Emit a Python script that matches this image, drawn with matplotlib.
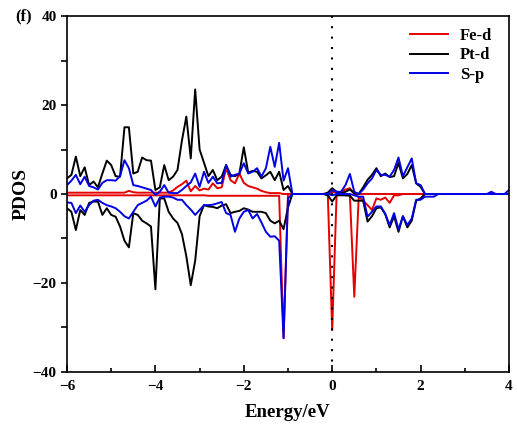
import numpy as np
import matplotlib
matplotlib.use('Agg')
from matplotlib import pyplot as plt
from matplotlib.ticker import MultipleLocator

plt.rcParams['font.family'] = 'Liberation Serif'
plt.rcParams['font.weight'] = 'bold'

# energy grid, -6 .. 4 eV in 0.1 eV steps
energy = np.round(np.arange(-6.0, 4.0001, 0.1), 2)

# values, one per grid point
fe_up = [0.3, 0.3, 0.3, 0.3, 0.3, 0.3, 0.3, 0.3, 0.3, 0.3,
         0.3, 0.3, 0.3, 0.3, 0.7, 0.4, 0.3, 0.3, 0.3, 0.3,
         0.3, 0.3, 0.3, 0.3, 0.8, 1.6, 2.2, 3.0, 0.6, 1.8,
         0.8, 1.2, 1.0, 2.4, 1.3, 1.5, 5.8, 3.1, 2.4, 4.6,
         2.5, 1.8, 1.5, 1.2, 0.7, 0.4, 0.2, 0.2, 0.2, 0.0,
         0.0, 0.0, 0.0, 0.0, 0.0, 0.0, 0.0, 0.0, 0.0, 0.0,
         0.5, 0.3, 0.5, 1.0, 1.3, 0.0, 0.0, 0.0, 0.0, 0.0,
         0.0, 0.0, 0.0, 0.0, 0.0, 0.0, 0.0, 0.0, 0.0, 0.0,
         0.0, 0.0, 0.0, 0.0, 0.0, 0.0, 0.0, 0.0, 0.0, 0.0,
         0.0, 0.0, 0.0, 0.0, 0.0, 0.0, 0.0, 0.0, 0.0, 0.0,
         0.0]
fe_dn = [-0.3, -0.3, -0.3, -0.3, -0.3, -0.3, -0.3, -0.3, -0.3, -0.3,
         -0.3, -0.3, -0.3, -0.3, -0.3, -0.3, -0.3, -0.3, -0.3, -0.3,
         -0.3, -0.3, -0.3, -0.3, -0.3, -0.3, -0.3, -0.3, -0.3, -0.3,
         -0.3, -0.3, -0.4, -0.4, -0.4, -0.4, -0.4, -0.4, -0.4, -0.4,
         -0.4, -0.4, -0.4, -0.4, -0.4, -0.4, -0.4, -0.4, -0.4, -32.4,
         0.0, 0.0, 0.0, 0.0, 0.0, 0.0, 0.0, 0.0, 0.0, 0.0,
         -30.6, 0.0, 0.0, -0.3, -0.2, -23.1, -0.6, -1.5, -2.5, -3.6,
         -1.0, -1.3, -0.8, -2.0, -0.3, -0.3, 0.0, 0.0, 0.0, 0.0,
         0.0, 0.0, 0.0, 0.0, 0.0, 0.0, 0.0, 0.0, 0.0, 0.0,
         0.0, 0.0, 0.0, 0.0, 0.0, 0.0, 0.0, 0.0, 0.0, 0.0,
         0.0]
pt_up = [3.5, 4.3, 8.4, 4.0, 6.0, 2.0, 2.8, 1.5, 4.6, 7.5,
         6.5, 4.0, 3.9, 15.0, 15.0, 4.6, 5.0, 8.2, 7.6, 7.5,
         0.9, 1.5, 6.5, 3.1, 3.9, 5.4, 12.0, 17.4, 8.0, 23.5,
         10.0, 7.0, 4.0, 5.4, 3.1, 3.9, 6.5, 4.3, 4.0, 4.6,
         10.5, 4.8, 5.2, 5.0, 3.5, 4.2, 5.0, 3.1, 5.0, 0.9,
         1.8, 0.0, 0.0, 0.0, 0.0, 0.0, 0.0, 0.0, 0.0, 0.3,
         1.3, 0.5, 0.2, 0.5, 1.0, 0.2, 0.0, 1.5, 3.2, 4.3,
         5.8, 4.0, 4.6, 3.8, 4.0, 7.0, 3.5, 4.5, 6.5, 2.4,
         1.6, 0.0, 0.0, 0.0, 0.0, 0.0, 0.0, 0.0, 0.0, 0.0,
         0.0, 0.0, 0.0, 0.0, 0.0, 0.0, 0.0, 0.0, 0.0, 0.0,
         0.0]
pt_dn = [-3.2, -4.0, -8.1, -3.6, -4.7, -2.0, -1.7, -1.7, -4.7, -3.2,
         -4.7, -5.1, -7.3, -10.5, -12.0, -4.3, -4.7, -6.0, -6.6, -7.3,
         -21.4, -1.0, -1.0, -4.0, -5.5, -6.5, -9.0, -14.0, -20.5, -15.0,
         -5.0, -2.5, -2.8, -2.9, -3.2, -2.6, -2.3, -4.3, -4.0, -3.8,
         -3.2, -3.5, -4.0, -4.0, -4.0, -4.3, -6.0, -6.6, -6.0, -7.9,
         -3.0, 0.0, 0.0, 0.0, 0.0, 0.0, 0.0, 0.0, 0.0, -0.3,
         -1.7, -0.3, -0.3, -0.3, -0.4, -1.5, -1.5, -1.5, -6.2, -5.0,
         -3.2, -3.0, -4.5, -7.5, -5.0, -8.5, -5.0, -7.5, -6.0, -1.5,
         -1.0, 0.0, 0.0, 0.0, 0.0, 0.0, 0.0, 0.0, 0.0, 0.0,
         0.0, 0.0, 0.0, 0.0, 0.0, 0.0, 0.0, 0.0, 0.0, 0.0,
         0.0]
s_up = [2.0, 3.0, 4.3, 2.2, 3.9, 1.8, 1.5, 1.0, 2.5, 3.1,
        3.1, 3.0, 4.0, 7.6, 5.8, 2.0, 1.8, 1.5, 1.2, 0.9,
        -0.2, 0.5, 2.0, 0.3, 0.2, 0.2, 0.9, 1.8, 2.6, 4.6,
        1.6, 5.0, 2.5, 3.9, 2.4, 2.5, 6.5, 3.9, 4.3, 4.6,
        6.9, 4.6, 5.0, 5.8, 3.9, 5.8, 10.6, 6.1, 11.5, 3.0,
        5.8, 0.0, 0.0, 0.0, 0.0, 0.0, 0.0, 0.0, 0.0, 0.0,
        0.9, 0.5, 0.5, 2.0, 4.5, 0.5, 0.0, 1.0, 2.4, 3.5,
        5.4, 4.3, 4.3, 3.9, 5.4, 8.2, 4.0, 6.0, 8.0, 2.4,
        2.0, 0.0, 0.0, 0.0, 0.0, 0.0, 0.0, 0.0, 0.0, 0.0,
        0.0, 0.0, 0.0, 0.0, 0.0, 0.0, 0.5, 0.0, 0.0, 0.0,
        0.9]
s_dn = [-1.9, -2.0, -4.3, -2.6, -4.0, -2.5, -1.5, -1.3, -2.0, -2.5,
        -2.8, -3.2, -4.0, -5.0, -5.5, -4.0, -2.5, -2.0, -1.5, -0.6,
        -2.8, -0.8, -0.6, -0.6, -0.8, -1.3, -1.3, -2.5, -3.5, -4.7,
        -3.6, -2.5, -2.5, -2.4, -2.1, -1.8, -4.3, -4.7, -8.5, -5.5,
        -4.0, -3.6, -5.5, -4.5, -6.4, -8.5, -9.6, -9.5, -10.5, -32.4,
        -1.0, 0.0, 0.0, 0.0, 0.0, 0.0, 0.0, 0.0, 0.0, 0.0,
        -0.3, 0.0, 0.0, 0.0, 0.0, -0.3, -0.6, -0.6, -5.1, -4.0,
        -2.8, -2.8, -4.5, -7.0, -4.3, -8.0, -5.0, -7.0, -5.5, -1.3,
        -1.3, -0.6, -0.6, -0.6, 0.0, 0.0, 0.0, 0.0, 0.0, 0.0,
        0.0, 0.0, 0.0, 0.0, 0.0, 0.0, 0.0, 0.0, 0.0, 0.0,
        0.0]

red = '#e60000'
blue = '#0000e6'
lw = 1.4

fig = plt.figure(figsize=(5.17, 4.34), dpi=100)
ax = fig.add_axes([0.1296, 0.1429, 0.8549, 0.8202])

ax.plot(energy, fe_up, color=red, lw=lw, label='Fe-d')
ax.plot(energy, fe_dn, color=red, lw=lw)
ax.plot(energy, pt_up, color='black', lw=lw, label='Pt-d')
ax.plot(energy, pt_dn, color='black', lw=lw)
ax.plot(energy, s_up, color=blue, lw=lw, label='S-p')
ax.plot(energy, s_dn, color=blue, lw=lw)

ax.axvline(0, color='black', lw=1.5, linestyle=(0, (1, 4)))

ax.set_xlim(-6, 4)
ax.set_ylim(-40, 40)
ax.xaxis.set_major_locator(MultipleLocator(2))
ax.xaxis.set_minor_locator(MultipleLocator(1))
ax.yaxis.set_major_locator(MultipleLocator(20))
ax.yaxis.set_minor_locator(MultipleLocator(10))
ax.tick_params(axis='x', which='major', direction='in', length=5, width=1.2, labelsize=11, pad=6)
ax.tick_params(axis='x', which='minor', direction='in', length=3, width=1.2)
ax.tick_params(axis='y', which='major', direction='out', length=4, width=1.2, labelsize=11)
ax.tick_params(axis='y', which='minor', direction='out', length=4, width=1.2)
for s in ax.spines.values():
    s.set_linewidth(1.2)

ax.set_xlabel('Energy/eV', fontsize=13.5, fontweight='bold', labelpad=8)
ax.set_ylabel('PDOS', fontsize=14, fontweight='bold', labelpad=2)

ax.legend(loc='upper right', bbox_to_anchor=(1.0, 1.013), frameon=False,
          fontsize=12, handlelength=2.3, handletextpad=0.7, labelspacing=0.2,
          borderaxespad=0.6)

fig.text(0.03, 0.963, '(f)', fontsize=12, fontweight='bold', va='center')

fig.savefig('out.png', dpi=100)
